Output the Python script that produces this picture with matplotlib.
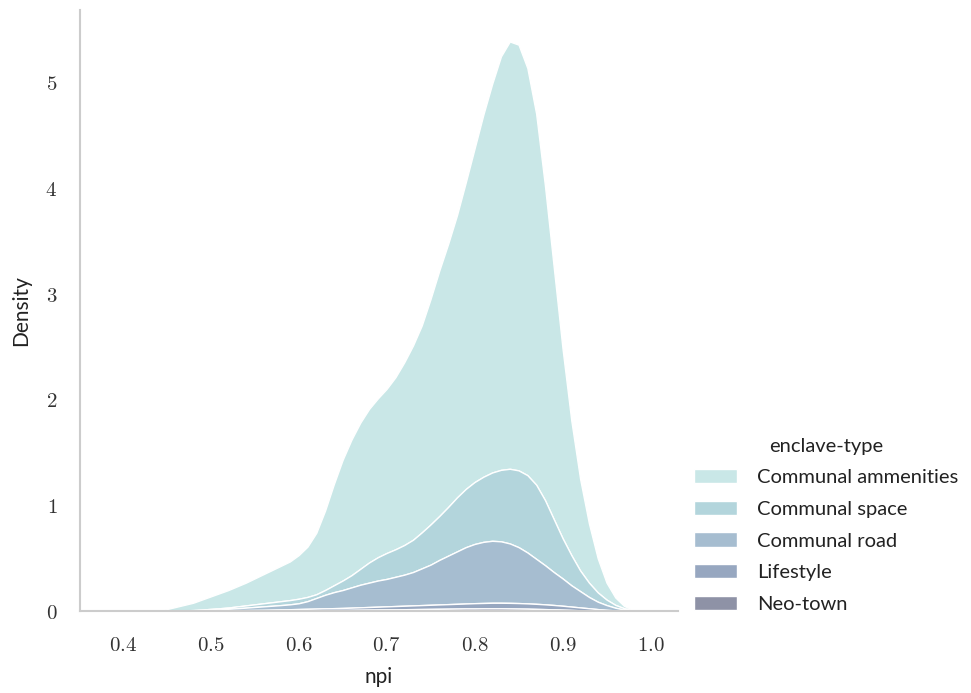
#!/usr/bin/env python3
"""
Stacked KDE of npi by enclave-type.
"""
import matplotlib
matplotlib.use("Agg")
import matplotlib.pyplot as plt
from matplotlib.ticker import FuncFormatter

# npi grid (0.42 .. 1.00, step 0.01)
npi = [round(0.42 + 0.01 * i, 2) for i in range(59)]

# stacked density, top edge of each layer
top_ammenities = [
    0, 0, 0.005, 0.02, 0.04, 0.06, 0.08, 0.11, 0.14, 0.17,
    0.20, 0.235, 0.27, 0.31, 0.35, 0.39, 0.43, 0.47, 0.53, 0.61,
    0.74, 0.95, 1.20, 1.43, 1.62, 1.78, 1.91, 2.01, 2.10, 2.21,
    2.35, 2.51, 2.70, 2.95, 3.22, 3.47, 3.74, 4.05, 4.37, 4.69,
    4.98, 5.24, 5.38, 5.35, 5.13, 4.70, 4.02, 3.25, 2.48, 1.80,
    1.25, 0.83, 0.50, 0.27, 0.13, 0.05, 0.015, 0.003, 0,
]
top_space = [
    0, 0, 0.001, 0.003, 0.005, 0.008, 0.011, 0.016, 0.022, 0.028,
    0.035, 0.045, 0.055, 0.065, 0.075, 0.085, 0.095, 0.105, 0.118, 0.135,
    0.16, 0.20, 0.245, 0.29, 0.34, 0.40, 0.46, 0.51, 0.55, 0.585,
    0.625, 0.675, 0.745, 0.82, 0.90, 0.985, 1.075, 1.155, 1.22, 1.27,
    1.31, 1.335, 1.345, 1.33, 1.285, 1.195, 1.05, 0.87, 0.69, 0.53,
    0.385, 0.27, 0.178, 0.11, 0.06, 0.028, 0.01, 0.003, 0,
]
top_road = [
    0, 0, 0.001, 0.002, 0.003, 0.005, 0.007, 0.01, 0.014, 0.018,
    0.023, 0.028, 0.034, 0.04, 0.046, 0.052, 0.058, 0.065, 0.075, 0.095,
    0.125, 0.155, 0.18, 0.20, 0.225, 0.25, 0.27, 0.29, 0.305, 0.325,
    0.345, 0.37, 0.405, 0.44, 0.485, 0.525, 0.565, 0.605, 0.635, 0.655,
    0.665, 0.66, 0.64, 0.605, 0.555, 0.495, 0.435, 0.37, 0.31, 0.245,
    0.19, 0.135, 0.09, 0.058, 0.033, 0.015, 0.005, 0.001, 0,
]
top_lifestyle = [
    0, 0, 0.001, 0.002, 0.003, 0.004, 0.005, 0.006, 0.007, 0.008,
    0.009, 0.010, 0.011, 0.012, 0.013, 0.015, 0.017, 0.019, 0.021, 0.023,
    0.025, 0.027, 0.029, 0.031, 0.034, 0.037, 0.040, 0.043, 0.046, 0.049,
    0.052, 0.055, 0.058, 0.061, 0.064, 0.067, 0.070, 0.073, 0.076, 0.078,
    0.080, 0.080, 0.079, 0.077, 0.074, 0.070, 0.065, 0.059, 0.052, 0.044,
    0.036, 0.028, 0.020, 0.013, 0.008, 0.004, 0.002, 0.001, 0,
]
top_neotown = [
    0, 0, 0, 0, 0, 0, 0, 0.001, 0.001, 0.001,
    0.002, 0.002, 0.003, 0.003, 0.004, 0.004, 0.005, 0.006, 0.007, 0.008,
    0.009, 0.010, 0.011, 0.012, 0.013, 0.014, 0.015, 0.016, 0.017, 0.018,
    0.019, 0.020, 0.021, 0.022, 0.023, 0.024, 0.025, 0.026, 0.026, 0.027,
    0.027, 0.027, 0.026, 0.025, 0.024, 0.022, 0.020, 0.018, 0.015, 0.012,
    0.009, 0.007, 0.005, 0.003, 0.002, 0.001, 0, 0, 0,
]

groups = ["Communal ammenities", "Communal space", "Communal road",
          "Lifestyle", "Neo-town"]
tops = [top_ammenities, top_space, top_road, top_lifestyle, top_neotown]
colors = ["#c9e7e7", "#b3d5dc", "#a6bdd0", "#97a7c0", "#8e92a6"]

plt.rcParams["font.family"] = ["Lato", "DejaVu Sans"]
plt.rcParams["mathtext.fontset"] = "cm"

fig = plt.figure(figsize=(9.71, 6.93), dpi=100)
ax = fig.add_axes([0.082, 0.118, 0.616, 0.868])

handles = []
for i, (name, top, col) in enumerate(zip(groups, tops, colors)):
    lower = tops[i + 1] if i + 1 < len(tops) else [0] * len(top)
    h = ax.fill_between(npi, lower, top, facecolor=col, edgecolor="white",
                        linewidth=1.0, label=name)
    handles.append(h)

ax.set_xlim(0.351, 1.031)
ax.set_ylim(0, 5.68)
ax.set_xticks([0.4, 0.5, 0.6, 0.7, 0.8, 0.9, 1.0])
ax.set_yticks([0, 1, 2, 3, 4, 5])
ax.xaxis.set_major_formatter(FuncFormatter(lambda v, p: f"${v:.1f}$"))
ax.yaxis.set_major_formatter(FuncFormatter(lambda v, p: f"${v:.0f}$"))
ax.tick_params(length=0, labelsize=15, colors="#333333")
ax.tick_params(axis="x", pad=17)
ax.tick_params(axis="y", pad=16)

for side in ("top", "right"):
    ax.spines[side].set_visible(False)
for side in ("left", "bottom"):
    ax.spines[side].set_color("#cccccc")
    ax.spines[side].set_linewidth(1.5)

ax.set_xlabel("npi", fontsize=15, color="#222222", labelpad=9)
ax.set_ylabel("Density", fontsize=15, color="#222222", labelpad=10)

leg = fig.legend(handles=handles, title="enclave-type", loc="center left",
                 bbox_to_anchor=(0.696, 0.242), frameon=False, fontsize=14.5,
                 title_fontsize=14.5, handlelength=2.15, handletextpad=1.0,
                 labelspacing=0.72)
for t in leg.get_texts():
    t.set_color("#222222")
leg.get_title().set_color("#222222")

fig.savefig("out.png", dpi=100)
